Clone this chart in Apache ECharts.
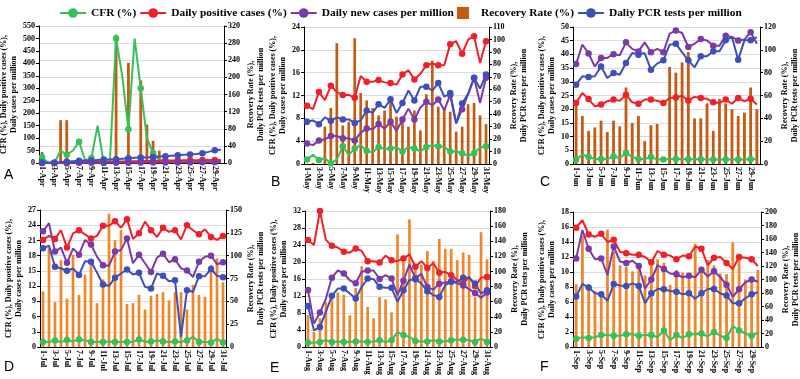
<!DOCTYPE html>
<html>
<head>
<meta charset="utf-8">
<script src="https://cdn.jsdelivr.net/npm/echarts@6/dist/echarts.min.js"></script>
<style>
html, body { margin: 0; background: #fff; }
#main { width: 800px; height: 379px; }
</style>
</head>
<body>
<div id="main"></div>
<script>
// April (A)
var aprCfr = [23, 0, 0, 50, 33, 50, 85, 10, 20, 150, 0, 8, 500, 350, 135, 500, 300, 100, 40, 12, 10, 8, 8, 8, 8, 8, 8, 8, 8, 8];
var aprPos = [0, 0, 0, 1, 2, 3, 3, 4, 4, 4, 5, 5, 6, 6, 7, 7, 7, 8, 8, 9, 9, 10, 10, 11, 11, 11, 12, 12, 12, 12];
var aprNew = [0, 0, 0, 0, 0, 1, 1, 1, 1, 1, 1, 1, 1, 1, 1, 1, 2, 2, 2, 2, 2, 2, 2, 2, 2, 3, 3, 3, 3, 3];
var aprRec = [26, 0, 0, 100, 100, 0, 0, 0, 0, 0, 0, 0, 300, 0, 234, 0, 193, 90, 52, 29, 0, 0, 0, 0, 0, 0, 0, 0, 0, 0];
var aprPcr = [1, 1, 1, 2, 3, 4, 5, 6, 6, 7, 8, 8, 9, 10, 11, 12, 13, 13, 14, 15, 16, 17, 18, 19, 20, 21, 23, 26, 30, 31];
// May (B)
var mayCfr = [0.8, 1.6, 0.7, 1.0, 0.1, 0.8, 3.1, 1.6, 2.7, 3.3, 2.3, 2.0, 3.0, 2.6, 2.7, 2.9, 2.2, 3.0, 2.7, 2.2, 3.0, 3.3, 3.1, 3.0, 2.2, 2.2, 1.9, 1.4, 1.9, 2.9, 3.1];
var mayPos = [10.2, 9.6, 12.6, 11.2, 13.7, 12.6, 12.1, 12.1, 11.6, 15.4, 14.4, 14.4, 14.7, 14.3, 14.2, 13.9, 15.7, 16.4, 14.8, 15.8, 17.3, 17.6, 17.3, 17.3, 21.0, 21.5, 19.3, 21.8, 22.4, 17.7, 21.5];
var mayNew = [3.6, 3.3, 4.1, 4.3, 4.9, 4.9, 4.5, 4.5, 4.1, 5.5, 6.2, 6.1, 7.0, 6.2, 7.4, 5.8, 7.8, 9.7, 7.8, 9.9, 10.9, 10.3, 11.3, 9.4, 12.1, 7.1, 9.6, 12.2, 15.1, 10.7, 15.1];
var mayRec = [0, 1, 0, 30, 45, 97, 31, 34, 101, 57, 51, 45, 39, 43, 50, 38, 38, 30, 43, 27, 56, 83, 46, 45, 42, 26, 30, 48, 49, 39, 32];
var mayPcr = [34, 35, 32, 37.4, 34.7, 37.4, 35.8, 35.8, 33, 35, 43, 41, 48, 45, 52, 41, 49, 59, 51, 62, 62, 59, 65, 54, 57, 32.6, 48.6, 56.6, 69, 60.6, 71.8];
// June (C)
var junCfr = [1.6, 3.4, 2.6, 1.8, 1.8, 1.8, 2.8, 2.2, 4.0, 2.6, 1.8, 1.8, 2.6, 1.6, 1.6, 1.8, 1.8, 1.7, 1.7, 1.7, 1.7, 1.6, 1.6, 1.6, 1.6, 1.6, 1.6, 1.6, 1.7, 1.7];
var junPos = [22.3, 25.9, 23.7, 21.0, 21.7, 22.9, 23.5, 23.1, 25.3, 22.5, 22.0, 23.5, 23.5, 23.1, 22.3, 24.1, 24.3, 24.9, 23.2, 24.5, 24.1, 23.8, 22.5, 22.3, 23.5, 22.0, 24.1, 22.9, 23.8, 21.7];
var junNew = [36.5, 43.6, 40.3, 35.6, 38.7, 38.7, 40.1, 39.7, 44.4, 42.0, 41.1, 44.4, 40.8, 42.0, 40.8, 47.6, 48.7, 47.8, 42.7, 43.9, 45.6, 45.1, 43.2, 43.2, 46.8, 46.4, 45.1, 45.4, 48.1, 43.9];
var junRec = [51, 42, 29, 32, 38, 28, 38, 33, 67, 36, 42, 20, 34, 35, 0, 85, 80, 89, 98, 40, 40, 53, 29, 57, 53, 48, 42, 45, 67, 48];
var junPcr = [69.5, 76.8, 76.2, 76.8, 85.5, 75.3, 79.7, 78.2, 88.5, 97.2, 95.8, 97.2, 82.6, 87.9, 90.8, 104.5, 105.4, 97.8, 90.8, 84.7, 94.3, 94.3, 98.7, 98.7, 108.3, 111.2, 91.4, 108.3, 108.3, 111.2];
// July (D)
var julCfr = [1.0, 1.0, 1.3, 1.0, 1.4, 1.1, 1.5, 1.3, 1.0, 1.0, 1.0, 1.1, 1.0, 1.0, 1.0, 1.0, 1.5, 1.0, 1.1, 1.3, 1.1, 1.0, 1.1, 1.0, 1.3, 2.0, 1.0, 1.0, 0.9, 1.6, 0.9];
var julPos = [21.1, 21.9, 21.3, 23.0, 19.6, 22.4, 23.0, 22.2, 21.4, 21.9, 23.9, 23.9, 24.8, 23.5, 25.2, 21.3, 22.4, 24.7, 23.0, 21.7, 23.5, 22.7, 23.0, 21.2, 24.0, 23.0, 22.2, 23.2, 21.7, 21.1, 21.9];
var julNew = [22.8, 24.4, 18.8, 19.6, 16.6, 19.4, 18.2, 21.1, 20.2, 17.8, 16.1, 16.0, 18.8, 19.1, 21.4, 16.5, 18.2, 16.5, 14.8, 17.6, 18.4, 16.7, 17.3, 15.5, 15.1, 13.8, 16.8, 17.8, 18.0, 16.3, 16.7];
var julRec = [61, 108, 49, 95, 53, 101, 57, 79, 90, 48, 74, 146, 117, 128, 47, 48, 57, 41, 56, 58, 60, 51, 60, 60, 41, 68, 57, 55, 90, 97, 71];
var julPcr = [108, 111, 87.8, 86, 83.4, 86, 78.7, 94, 93.3, 81.6, 68.4, 67, 75.7, 80.5, 84.9, 79.4, 81.2, 65.9, 64, 80.5, 78, 72, 73.2, 11, 62.2, 60.4, 77.6, 77.6, 85.3, 78, 76.5];
// August (E)
var augCfr = [1.0, 1.0, 1.2, 1.6, 1.2, 1.3, 1.2, 1.2, 1.3, 1.3, 1.2, 1.3, 1.6, 1.2, 1.6, 3.5, 2.8, 2.4, 1.4, 1.3, 1.3, 1.6, 1.3, 1.3, 1.6, 1.7, 1.7, 1.6, 1.2, 2.0, 1.2];
var augPos = [25.2, 24.0, 32.0, 25.2, 23.8, 23.4, 22.4, 22.2, 23.2, 22.6, 20.2, 20.2, 19.9, 21.5, 20.4, 20.2, 20.8, 21.8, 18.9, 20.2, 18.6, 19.7, 17.5, 17.7, 16.9, 15.8, 14.9, 16.5, 14.3, 16.3, 16.5];
var augNew = [13.4, 5.5, 8.1, 11.4, 16.3, 18.0, 17.3, 15.7, 15.0, 17.7, 18.0, 18.0, 16.0, 16.9, 16.1, 12.2, 15.6, 19.4, 16.2, 17.2, 14.1, 13.5, 14.9, 15.2, 15.5, 15.0, 14.5, 13.6, 12.7, 11.6, 12.8];
var augRec = [42, 20, 38, 60, 69, 72, 69, 42, 78, 107, 53, 38, 66, 63, 46, 149, 121, 169, 104, 109, 127, 114, 143, 130, 130, 115, 125, 122, 66, 152, 116];
var augPcr = [54.4, 22, 26.5, 46.4, 67.7, 77.4, 77.4, 70.8, 64.1, 79.6, 90.7, 89.8, 79.6, 78.3, 78.3, 59.7, 75.2, 88.5, 89.8, 84, 73.9, 68.6, 66.3, 81.8, 86.2, 86.2, 91.6, 91.6, 84, 70.8, 75.2];
// September (F)
var sepCfr = [1.1, 1.3, 1.2, 1.3, 1.6, 1.6, 1.5, 1.5, 1.7, 1.7, 1.5, 1.6, 1.6, 1.3, 2.2, 0.9, 1.6, 1.2, 1.7, 1.7, 1.8, 1.4, 2.0, 1.5, 1.2, 2.8, 2.2, 1.8, 1.5, 1.9];
var sepPos = [15.9, 16.9, 15.0, 14.7, 15.1, 14.0, 14.3, 12.7, 12.5, 12.3, 12.3, 12.0, 11.3, 12.8, 12.3, 12.2, 11.7, 12.2, 12.1, 13.4, 13.1, 10.9, 11.9, 12.0, 11.2, 10.4, 12.0, 11.9, 11.7, 10.8];
var sepNew = [11.8, 15.6, 13.1, 11.7, 11.8, 9.6, 13.4, 11.4, 11.2, 11.5, 10.8, 7.8, 9.0, 10.9, 10.4, 9.8, 9.7, 9.3, 9.5, 9.3, 10.3, 9.4, 10.1, 9.3, 8.3, 6.7, 7.7, 8.6, 9.0, 8.7];
var sepRec = [93, 165, 93, 83, 80, 174, 141, 121, 119, 112, 120, 106, 129, 130, 125, 92, 114, 110, 109, 153, 110, 129, 121, 109, 108, 155, 134, 100, 104, 114];
var sepPcr = [74.7, 93.4, 88, 79.6, 78.1, 68.3, 93.4, 91, 90.4, 94.3, 90.4, 65, 79.6, 86, 85.5, 83, 82, 78.1, 79.6, 71.3, 79.6, 86, 86, 79.6, 76.2, 65, 65, 72.2, 78.1, 81.1];

// left / right axis scales per panel
var leftMax = [550, 24, 50, 27, 32, 18];
var leftStep = [50, 4, 5, 3, 4, 2];
var rightMax = [320, 110, 120, 150, 180, 200];
var rightStep = [40, 10, 20, 25, 20, 20];

var names = ['CFR (%)', 'Daily positive cases (%)', 'Daily new cases per million', 'Recovery Rate (%)', 'Daliy PCR tests per million'];
var serif = '"Liberation Serif", "Times New Roman", serif';

function days(n, m) {
    var out = [];
    for (var d = 1; d <= n; d++) out.push(d + '-' + m);
    return out;
}

var panels = [
    { cats: days(30, 'Apr'), cfr: aprCfr, pos: aprPos, nw: aprNew, rec: aprRec, pcr: aprPcr, bar: '#c55a11', letter: 'A',
      grid: { left: 39, top: 26, width: 185, height: 137 }, gapL: 19, gapR: 22, lx: 4, ly: 168 },
    { cats: days(31, 'May'), cfr: mayCfr, pos: mayPos, nw: mayNew, rec: mayRec, pcr: mayPcr, bar: '#c55a11', letter: 'B',
      grid: { left: 304, top: 27, width: 185, height: 137 }, gapL: 14, gapR: 16, lx: 271, ly: 175 },
    { cats: days(30, 'Jun'), cfr: junCfr, pos: junPos, nw: junNew, rec: junRec, pcr: junPcr, bar: '#c55a11', letter: 'C',
      grid: { left: 573, top: 27, width: 187, height: 137 }, gapL: 13, gapR: 15, lx: 540, ly: 175 },
    { cats: days(31, 'Jul'), cfr: julCfr, pos: julPos, nw: julNew, rec: julRec, pcr: julPcr, bar: '#f0862a', letter: 'D',
      grid: { left: 40, top: 210, width: 186, height: 137 }, gapL: 15, gapR: 16, lx: 4, ly: 360 },
    { cats: days(31, 'Aug'), cfr: augCfr, pos: augPos, nw: augNew, rec: augRec, pcr: augPcr, bar: '#f0862a', letter: 'E',
      grid: { left: 305, top: 211, width: 185, height: 136 }, gapL: 13, gapR: 17, lx: 270, ly: 361 },
    { cats: days(30, 'Sep'), cfr: sepCfr, pos: sepPos, nw: sepNew, rec: sepRec, pcr: sepPcr, bar: '#f0862a', letter: 'F',
      grid: { left: 573, top: 212, width: 188, height: 135 }, gapL: 13, gapR: 17, lx: 540, ly: 360 }
];

var colors = { cfr: '#35c15a', pos: '#f0202a', nw: '#7a3aa8', pcr: '#3e4fb8' };

var grids = [], xAxes = [], yAxes = [], series = [], graphics = [];

var labelStyle = { fontSize: 8, fontWeight: 'bold', fontFamily: serif, color: '#000' };
var nameStyle = { fontSize: 8, fontWeight: 'bold', fontFamily: serif, color: '#000', lineHeight: 10 };

panels.forEach(function (p, i) {
    grids.push(Object.assign({ outerBoundsMode: 'none' }, p.grid));
    xAxes.push({
        type: 'category', gridIndex: i, data: p.cats,
        axisLine: { lineStyle: { color: '#000' } },
        axisTick: { show: false },
        axisLabel: Object.assign({ rotate: -90, interval: 1, margin: 3 }, labelStyle)
    });
    yAxes.push({
        type: 'value', gridIndex: i, position: 'left',
        min: 0, max: leftMax[i], interval: leftStep[i],
        name: 'CFR (%), Daily positive cases (%),\nDaily cases per million',
        nameLocation: 'middle', nameGap: p.gapL, nameTextStyle: nameStyle,
        axisLine: { show: true, lineStyle: { color: '#000' } },
        axisTick: { show: true, length: 3, lineStyle: { color: '#000' } },
        axisLabel: Object.assign({ margin: 4 }, labelStyle),
        splitLine: { show: i > 0, lineStyle: { color: '#dcdcdc' } }
    });
    yAxes.push({
        type: 'value', gridIndex: i, position: 'right',
        min: 0, max: rightMax[i], interval: rightStep[i],
        name: 'Recovery Rate (%),\nDaily PCR tests per million',
        nameLocation: 'middle', nameGap: p.gapR, nameTextStyle: nameStyle,
        axisLine: { show: true, lineStyle: { color: '#000' } },
        axisTick: { show: true, length: 3, lineStyle: { color: '#000' } },
        axisLabel: Object.assign({ margin: 4 }, labelStyle),
        splitLine: { show: i === 0, lineStyle: { color: '#dcdcdc' } }
    });

    var L = i * 2, R = i * 2 + 1;
    series.push({
        name: names[3], type: 'bar', xAxisIndex: i, yAxisIndex: R,
        data: p.rec, barWidth: '45%', itemStyle: { color: p.bar }
    });
    function line(name, data, color, yi) {
        series.push({
            name: name, type: 'line', xAxisIndex: i, yAxisIndex: yi, data: data,
            symbol: 'circle', symbolSize: 6.5, itemStyle: { color: color },
            lineStyle: { color: color, width: 2 }
        });
    }
    line(names[0], p.cfr, colors.cfr, L);
    line(names[1], p.pos, colors.pos, L);
    line(names[2], p.nw, colors.nw, L);
    line(names[4], p.pcr, colors.pcr, R);

    graphics.push({
        type: 'text', left: p.lx, top: p.ly,
        style: { text: p.letter, font: '14px "Liberation Sans", Arial, sans-serif', fill: '#000' }
    });
});

var chart = echarts.init(document.getElementById('main'));
chart.setOption({
    animation: false,
    backgroundColor: '#fff',
    legend: {
        top: 2, left: 54,
        itemWidth: 26, itemHeight: 12, itemGap: 3,
        textStyle: { fontSize: 11.4, fontWeight: 'bold', fontFamily: serif, color: '#000' },
        data: [names[0], names[1], names[2],
            { name: names[3], icon: 'path://M0,0L10,0L10,10L0,10Z' }, names[4]]
    },
    grid: grids,
    xAxis: xAxes,
    yAxis: yAxes,
    series: series,
    graphic: graphics
});
</script>
</body>
</html>
